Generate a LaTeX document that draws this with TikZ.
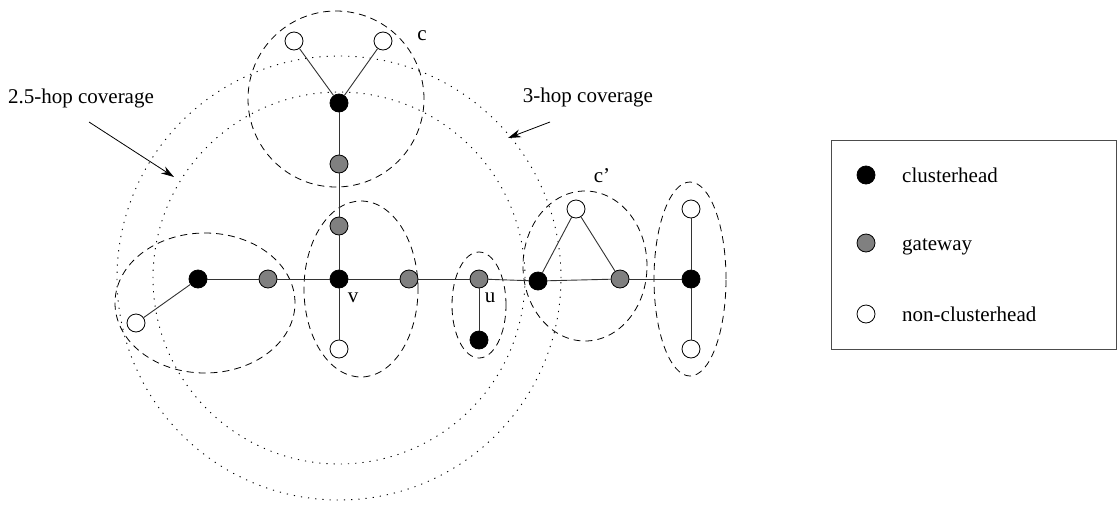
\documentclass[tikz,border=0pt]{standalone}
\usepackage{fontspec}
\setmainfont{Liberation Serif}
\usetikzlibrary{arrows.meta}
\tikzset{
  dot/.style={circle,draw=black,line width=0.8pt,minimum size=18pt,inner sep=0pt},
  chead/.style={dot,fill=black},
  gway/.style={dot,fill=black!50},
  nonch/.style={dot,fill=white},
  edge/.style={draw=black!80,line width=0.9pt},
  clus/.style={draw=black,line width=0.8pt,dash pattern=on 7pt off 5pt},
  cover/.style={draw=black,line width=0.9pt,dash pattern=on 1.2pt off 6pt},
  lbl/.style={font=\fontsize{21}{25}\selectfont,inner sep=0pt},
  ptr/.style={draw=black,line width=0.8pt,-{Stealth[length=13pt,width=8pt]}}
}
\begin{document}
\begin{tikzpicture}[x=1pt,y=-1pt]
\useasboundingbox (0,0) rectangle (1117,504);
% coverage circles
\draw[cover] (339,278) circle[radius=186pt];
\draw[cover] (339,278) circle[radius=222pt];
% cluster outlines
\draw[clus] (336,99) circle[radius=88pt];
\draw[clus] (205,303) ellipse[x radius=90pt,y radius=70pt];
\draw[clus] (361,289) ellipse[x radius=57pt,y radius=88pt];
\draw[clus] (479,305) ellipse[x radius=27pt,y radius=53pt];
\draw[clus] (585,266) ellipse[x radius=62pt,y radius=75pt];
\draw[clus] (690,279) ellipse[x radius=36pt,y radius=97pt];
% nodes
\node[nonch] (cw1) at (294,41) {};
\node[nonch] (cw2) at (383,41) {};
\node[chead] (ch) at (339,103) {};
\node[gway] (g1) at (339,164) {};
\node[gway] (g2) at (339,226) {};
\node[chead] (v) at (339,279) {};
\node[nonch] (vw) at (339,349) {};
\node[chead] (lb) at (198,279) {};
\node[nonch] (lw) at (136,323) {};
\node[gway] (lg) at (268,279) {};
\node[gway] (g3) at (409,279) {};
\node[gway] (ug) at (479,279) {};
\node[chead] (ub) at (479,340) {};
\node[chead] (cb) at (538,281) {};
\node[nonch] (cw) at (576,209) {};
\node[gway] (cg) at (620,279) {};
\node[chead] (rb) at (691,279) {};
\node[nonch] (rw1) at (691,209) {};
\node[nonch] (rw2) at (691,349) {};
% edges
\draw[edge] (cw1) -- (ch);
\draw[edge] (cw2) -- (ch);
\draw[edge] (ch) -- (g1);
\draw[edge] (g1) -- (g2);
\draw[edge] (g2) -- (v);
\draw[edge] (v) -- (vw);
\draw[edge] (lw) -- (lb);
\draw[edge] (lb) -- (lg);
\draw[edge] (lg) -- (v);
\draw[edge] (v) -- (g3);
\draw[edge] (g3) -- (ug);
\draw[edge] (ug) -- (cb);
\draw[edge] (ug) -- (ub);
\draw[edge] (cb) -- (cw);
\draw[edge] (cw) -- (cg);
\draw[edge] (cb) -- (cg);
\draw[edge] (cg) -- (rb);
\draw[edge] (rb) -- (rw1);
\draw[edge] (rb) -- (rw2);
% labels
\node[lbl] (lc) at (422,36) {c};
\node[lbl] (lcp) at (602,176) {c'};
\node[lbl] (lv) at (353,298) {v};
\node[lbl] (lu) at (490,298) {u};
\node[lbl] (t25) at (81,98) {2.5-hop coverage};
\node[lbl] (t3) at (588,97) {3-hop coverage};
\coordinate (a25s) at (89,122);
\coordinate (a25e) at (174,177);
\coordinate (a3s) at (550,122);
\coordinate (a3e) at (508,138);
\draw[ptr] (a25s) -- (a25e);
\draw[ptr] (a3s) -- (a3e);
% legend
\node[draw=black!70,line width=1pt,minimum width=285pt,minimum height=209pt,inner sep=0pt] (leg) at (973.5,244.5) {};
\node[chead] (kch) at (866,175) {};
\node[gway] (kgw) at (866,243) {};
\node[nonch] (knc) at (866,314) {};
\node[lbl,anchor=base west] (tch) at (902,182) {clusterhead};
\node[lbl,anchor=base west] (tgw) at (902,250) {gateway};
\node[lbl,anchor=base west] (tnc) at (902,321) {non-clusterhead};
\end{tikzpicture}
\end{document}
